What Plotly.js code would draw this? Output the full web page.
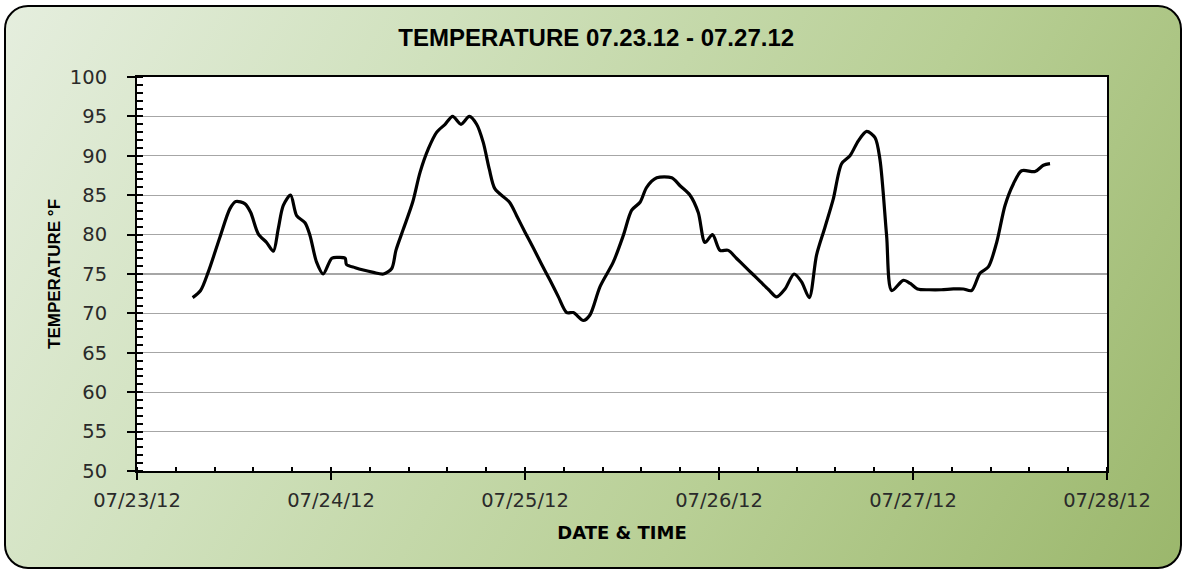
<!DOCTYPE html>
<html>
<head>
<meta charset="utf-8">
<script src="https://cdn.plot.ly/plotly-3.0.1.min.js"></script>
<style>
  html, body { margin:0; padding:0; background:#ffffff; }
  #wrap { position:relative; width:1183px; height:571px; }
  #frame {
    position:absolute; left:4px; top:5px; width:1174px; height:560px;
    border:2.5px solid #000; border-radius:24px;
    background: linear-gradient(120deg, #e5eede 0%, #d0e1bd 30%, #b8cf95 65%, #9bb76c 100%);
  }
  #chart { position:absolute; left:0; top:0; width:1183px; height:571px; }
</style>
</head>
<body>
<div id="wrap">
  <div id="frame"></div>
  <div id="chart"></div>
</div>
<script>
// ---- data ----
const times = [
 "2012-07-23 06:53","2012-07-23 07:52","2012-07-23 08:50","2012-07-23 10:16","2012-07-23 11:30",
 "2012-07-23 12:14","2012-07-23 13:22","2012-07-23 14:04","2012-07-23 15:00","2012-07-23 16:02",
 "2012-07-23 16:52","2012-07-23 17:28","2012-07-23 18:06","2012-07-23 19:00","2012-07-23 19:45",
 "2012-07-23 20:47","2012-07-23 21:24","2012-07-23 22:13","2012-07-23 23:02","2012-07-24 00:06",
 "2012-07-24 00:55","2012-07-24 01:45","2012-07-24 01:55","2012-07-24 03:00","2012-07-24 04:00",
 "2012-07-24 05:15","2012-07-24 06:29","2012-07-24 07:31","2012-07-24 08:02","2012-07-24 08:57",
 "2012-07-24 10:06","2012-07-24 11:01","2012-07-24 12:03","2012-07-24 13:05","2012-07-24 14:07",
 "2012-07-24 15:03","2012-07-24 16:05","2012-07-24 17:07","2012-07-24 18:01","2012-07-24 18:50",
 "2012-07-24 19:35","2012-07-24 20:17","2012-07-24 22:05","2012-07-24 22:58","2012-07-25 00:00",
 "2012-07-25 01:02","2012-07-25 02:04","2012-07-25 03:06","2012-07-25 04:08","2012-07-25 05:10",
 "2012-07-25 05:59","2012-07-25 07:13","2012-07-25 08:02","2012-07-25 09:17","2012-07-25 10:55",
 "2012-07-25 12:10","2012-07-25 13:12","2012-07-25 14:14","2012-07-25 15:03","2012-07-25 16:18",
 "2012-07-25 18:09","2012-07-25 19:11","2012-07-25 20:25","2012-07-25 21:26","2012-07-25 22:16",
 "2012-07-25 23:12","2012-07-26 00:07","2012-07-26 01:09","2012-07-26 02:09","2012-07-26 03:09",
 "2012-07-26 04:09","2012-07-26 05:09","2012-07-26 06:09","2012-07-26 07:08","2012-07-26 08:10",
 "2012-07-26 09:17","2012-07-26 10:13","2012-07-26 11:10","2012-07-26 12:04","2012-07-26 13:06",
 "2012-07-26 14:08","2012-07-26 15:10","2012-07-26 16:12","2012-07-26 17:14","2012-07-26 18:16",
 "2012-07-26 19:18","2012-07-26 19:55","2012-07-26 20:44","2012-07-26 21:22","2012-07-26 22:48",
 "2012-07-26 23:40","2012-07-27 00:33","2012-07-27 02:00","2012-07-27 03:30","2012-07-27 05:00",
 "2012-07-27 06:13","2012-07-27 07:15","2012-07-27 08:17","2012-07-27 09:19","2012-07-27 10:21",
 "2012-07-27 11:23","2012-07-27 12:24","2012-07-27 13:26","2012-07-27 15:06","2012-07-27 16:08",
 "2012-07-27 16:57"
];
const temperatures = [
 72.0, 72.9, 75.3, 79.7, 83.3,
 84.2, 83.9, 82.8, 80.1, 79.0,
 77.9, 80.7, 83.7, 85.0, 82.4,
 81.5, 79.9, 76.5, 75.0, 77.0,
 77.1, 77.0, 76.2, 75.8, 75.5,
 75.2, 75.0, 75.7, 78.0, 80.7,
 84.1, 87.9, 90.9, 93.0, 94.0,
 95.0, 94.0, 95.0, 94.0, 91.7,
 88.3, 85.8, 84.1, 82.4, 80.3,
 78.3, 76.2, 74.2, 72.1, 70.1,
 70.1, 69.1, 69.8, 73.4, 76.5,
 79.9, 83.1, 84.1, 86.0, 87.2,
 87.2, 86.2, 85.0, 82.8, 79.0,
 80.0, 78.0, 78.0, 77.0, 76.0,
 75.0, 74.0, 73.0, 72.1, 73.1,
 75.0, 74.0, 72.0, 77.4, 80.9,
 84.5, 89.0, 90.0, 91.9, 93.1,
 92.3, 89.5, 79.9, 72.9, 74.2,
 73.8, 73.1, 73.0, 73.0, 73.1,
 73.1, 72.9, 75.1, 75.9, 79.0,
 83.7, 86.4, 88.1, 88.0, 88.8,
 89.0
];
const xRange = ["2012-07-23", "2012-07-28"];
const yRange = [50, 100];
const chartTitle = "TEMPERATURE 07.23.12 - 07.27.12";
const xTitle = "DATE & TIME";
const yTitle = "TEMPERATURE °F";

const DAY = 86400000;
const tickFont = {family: "DejaVu Sans, Open Sans, sans-serif", size: 19.5, color: "#2a2a2a"};

const traces = [
  {
    x: times, y: temperatures, type: "scatter", mode: "lines",
    line: {color: "#000000", width: 3.2, shape: "spline", smoothing: 0.8},
    xaxis: "x", yaxis: "y", hoverinfo: "x+y", showlegend: false
  },
  // invisible trace to activate the overlay axes (inner half of crossing major ticks)
  {
    x: xRange, y: yRange, type: "scatter", mode: "markers",
    marker: {opacity: 0}, xaxis: "x2", yaxis: "y2", hoverinfo: "skip", showlegend: false
  }
];

const layout = {
  width: 1183, height: 571,
  paper_bgcolor: "rgba(0,0,0,0)",
  plot_bgcolor: "#ffffff",
  margin: {l: 137, r: 76, t: 77, b: 100},
  showlegend: false,
  title: {
    text: chartTitle,
    font: {family: "Liberation Sans, Arial, sans-serif", size: 24, weight: "bold", color: "#000000"},
    x: 0.504, xanchor: "center", xref: "container",
    y: 0.935, yanchor: "middle", yref: "container"
  },
  xaxis: {
    type: "date", range: xRange,
    tick0: "2012-07-23", dtick: DAY, tickformat: "%m/%d/%y",
    ticks: "outside", ticklen: 7, tickwidth: 2, tickcolor: "#000",
    showline: true, linecolor: "#000", linewidth: 2, mirror: true,
    showgrid: false, zeroline: false,
    tickfont: tickFont, ticklabelstandoff: 4,
    minor: {dtick: DAY / 5, ticks: "inside", ticklen: 4, tickwidth: 2, tickcolor: "#000", showgrid: false},
    title: {text: xTitle, font: {family: "DejaVu Sans, sans-serif", size: 18, weight: "bold", color: "#000"}, standoff: 15}
  },
  yaxis: {
    range: yRange, dtick: 5, tick0: 50,
    ticks: "outside", ticklen: 8, tickwidth: 2, tickcolor: "#000",
    showline: true, linecolor: "#000", linewidth: 2, mirror: true,
    showgrid: true, gridcolor: "#a6a6a6", gridwidth: 1.2, zeroline: false,
    tickfont: tickFont, ticklabelstandoff: 16,
    minor: {dtick: 1, ticks: "inside", ticklen: 6, tickwidth: 2, tickcolor: "#000", showgrid: false},
    title: {text: yTitle, font: {family: "Liberation Sans Narrow, Arial Narrow, Liberation Sans, sans-serif", size: 17, weight: "bold", color: "#000"}, standoff: 5}
  },
  xaxis2: {
    type: "date", range: xRange, overlaying: "x", anchor: "y2", side: "bottom",
    tick0: "2012-07-23", dtick: DAY, ticks: "inside", ticklen: 4, tickwidth: 2, tickcolor: "#000",
    showticklabels: false, showgrid: false, showline: false, zeroline: false
  },
  yaxis2: {
    range: yRange, overlaying: "y", anchor: "x2", side: "left",
    dtick: 5, tick0: 50, ticks: "inside", ticklen: 5, tickwidth: 2, tickcolor: "#000",
    showticklabels: false, showgrid: false, showline: false, zeroline: false
  }
};

Plotly.newPlot("chart", traces, layout, {displayModeBar: false, staticPlot: true});
</script>
</body>
</html>
